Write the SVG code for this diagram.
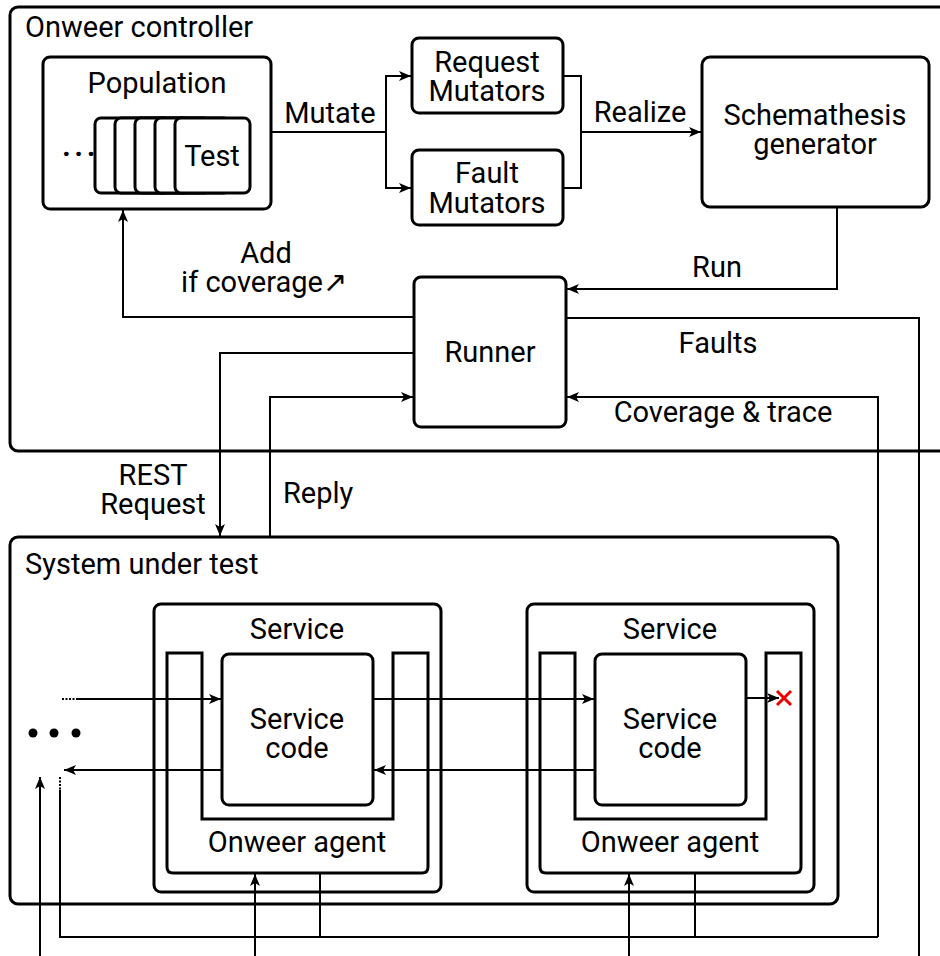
<svg xmlns="http://www.w3.org/2000/svg" width="940" height="956" viewBox="0 0 940 956">
<defs>
<style>
.box{fill:#fff;stroke:#000;stroke-width:3}
.con{fill:none;stroke:#000;stroke-width:2}
.arr{marker-end:url(#ah)}
.dot{fill:none;stroke:#000;stroke-width:2;stroke-dasharray:2 1.5}
text{font-family:Roboto,"Liberation Sans",sans-serif;font-size:29px;fill:#000}
.c{text-anchor:middle}
</style>
<marker id="ah" viewBox="0 0 12 10" refX="12" refY="5" markerWidth="12" markerHeight="10" markerUnits="userSpaceOnUse" orient="auto">
<path d="M0,0 L12,5 L0,10 L3,5 Z" fill="#000"/>
</marker>
</defs>
<rect width="940" height="956" fill="#fff"/>

<g id="controller">
<rect class="box" x="10" y="7" width="960" height="444" rx="8"/>
<text x="25" y="37">Onweer controller</text>
</g>

<g id="sut">
<rect class="box" x="10" y="537" width="828" height="367" rx="8"/>
<text x="25" y="574">System under test</text>
</g>

<g id="population">
<rect class="box" x="43" y="57" width="228" height="152" rx="7"/>
<text class="c" x="157" y="93">Population</text>
<rect class="box" x="95" y="118" width="75" height="75" rx="6"/>
<rect class="box" x="115" y="118" width="75" height="75" rx="6"/>
<rect class="box" x="135" y="118" width="75" height="75" rx="6"/>
<rect class="box" x="155" y="118" width="75" height="75" rx="6"/>
<rect class="box" x="175" y="118" width="75" height="75" rx="6"/>
<text class="c" x="212" y="166">Test</text>
<text x="62" y="164" letter-spacing="3.6" font-weight="bold">···</text>
</g>

<g id="request-mutators">
<rect class="box" x="412" y="38" width="151" height="75" rx="7"/>
<text class="c" x="487" y="72">Request</text>
<text class="c" x="487" y="101">Mutators</text>
</g>

<g id="fault-mutators">
<rect class="box" x="412" y="150" width="151" height="75" rx="7"/>
<text class="c" x="487" y="183">Fault</text>
<text class="c" x="487" y="213">Mutators</text>
</g>

<g id="schemathesis">
<rect class="box" x="702" y="57" width="227" height="150" rx="8"/>
<text class="c" x="815" y="125">Schemathesis</text>
<text class="c" x="815" y="154">generator</text>
</g>

<g id="runner">
<rect class="box" x="414" y="277" width="152" height="150" rx="7"/>
<text class="c" x="490" y="362">Runner</text>
</g>

<g id="service1">
<rect class="box" x="154" y="604" width="287" height="288" rx="7"/>
<text class="c" x="297" y="639">Service</text>
<path class="box" d="M167,653 H202 V819 H393 V653 H428 V867 Q428,873 422,873 H173 Q167,873 167,867 Z"/>
<text class="c" x="297" y="852">Onweer agent</text>
<rect class="box" x="222" y="654" width="151" height="151" rx="7"/>
<text class="c" x="297" y="729">Service</text>
<text class="c" x="297" y="758">code</text>
</g>

<g id="service2">
<rect class="box" x="527" y="604" width="287" height="288" rx="7"/>
<text class="c" x="670" y="639">Service</text>
<path class="box" d="M540,653 H575 V819 H766 V653 H801 V867 Q801,873 795,873 H546 Q540,873 540,867 Z"/>
<text class="c" x="670" y="852">Onweer agent</text>
<rect class="box" x="595" y="654" width="151" height="151" rx="7"/>
<text class="c" x="670" y="729">Service</text>
<text class="c" x="670" y="758">code</text>
</g>

<g id="more-services">
<circle cx="33" cy="733" r="4.5"/>
<circle cx="54" cy="733" r="4.5"/>
<circle cx="76" cy="733" r="4.5"/>
</g>

<g id="connectors">
<path class="con arr" d="M271,132 H386 V76 H411"/>
<path class="con arr" d="M386,132 V188 H411"/>
<text class="c" x="330" y="123">Mutate</text>
<path class="con" d="M563,76 H581 V188 H563"/>
<path class="con arr" d="M581,132 H701"/>
<text class="c" x="640" y="122">Realize</text>
<path class="con arr" d="M837,207 V289 H567"/>
<text class="c" x="717" y="277">Run</text>
<path class="con arr" d="M414,317 H123 V210"/>
<text class="c" x="266" y="263">Add</text>
<text class="c" x="264" y="292">if coverage↗</text>
<path class="con" d="M566,318 H919 V956"/>
<text class="c" x="718" y="353">Faults</text>
<path class="con arr" d="M878,937 V397 H567"/>
<text class="c" x="723" y="422">Coverage &amp; trace</text>
<path class="con arr" d="M414,353 H220 V536"/>
<text class="c" x="153" y="485">REST</text>
<text class="c" x="153" y="514">Request</text>
<path class="con arr" d="M270,536 V397 H413"/>
<text x="283" y="503">Reply</text>
<path class="dot" d="M62,699 H75"/>
<path class="con arr" d="M76,699 H221"/>
<path class="con arr" d="M373,699 H594"/>
<path class="con arr" d="M595,770 H374"/>
<path class="con arr" d="M222,770 H64"/>
<path class="con arr" d="M746,698 H779"/>
<path d="M777,691 L791,705 M791,691 L777,705" stroke="#e00" stroke-width="3" fill="none"/>
<path class="dot" d="M60,777 V790"/>
<path class="con" d="M60,790 V937 H878"/>
<path class="con" d="M320,873 V937"/>
<path class="con" d="M695,873 V937"/>
<path class="con arr" d="M40,956 V777"/>
<path class="con arr" d="M255,956 V874"/>
<path class="con arr" d="M629,956 V874"/>
</g>
</svg>
